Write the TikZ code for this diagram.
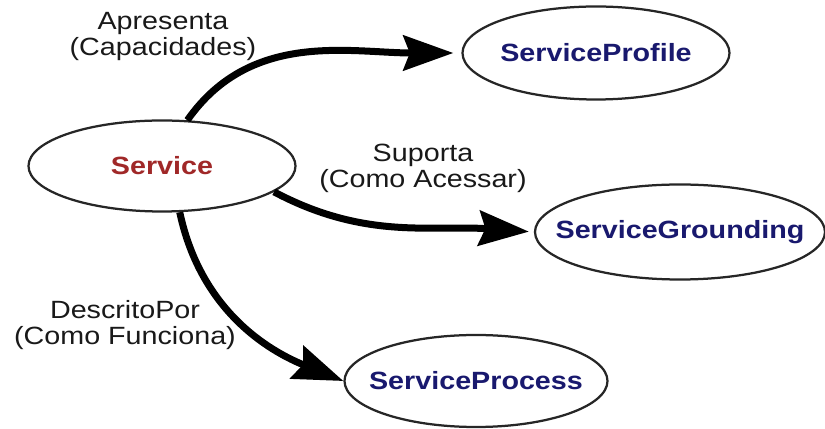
\documentclass[tikz,border=0pt]{standalone}
\usepackage{fontspec}
\newfontfamily\ontofont[FakeStretch=1.15]{Liberation Sans}
\usetikzlibrary{shapes.geometric,arrows.meta}
\definecolor{svcred}{RGB}{160,40,40}
\definecolor{svcblue}{RGB}{25,25,110}
\tikzset {>={Stealth[length=1cm,width=0.7cm,inset=0.13cm]}}
\tikzset{
  oval/.style={ellipse,draw=black!85,line width=0.045cm,fill=white,inner sep=0pt,
    font=\ontofont\bfseries\fontsize{14.2}{16}\selectfont},
  rel/.style={->,line width=0.14cm},
  relname/.style={align=center,text=black!90,font=\ontofont\fontsize{14.2}{14.8}\selectfont}
}
\newcommand{\ovaltext}[1]{\makebox[0pt]{#1}}

\begin{document}
\begin{tikzpicture}
\useasboundingbox (0,0) rectangle (16.5,-8.58);
\node[oval,minimum width=5.34cm,minimum height=1.82cm,text=svcred] (svc) at (3.24,-3.32) {\ovaltext{Service}};
\node[oval,minimum width=5.34cm,minimum height=1.86cm,text=svcblue] (profile) at (11.92,-1.06) {\ovaltext{ServiceProfile}};
\node[oval,minimum width=5.8cm,minimum height=1.9cm,text=svcblue] (grounding) at (13.6,-4.64) {\ovaltext{ServiceGrounding}};
\node[oval,minimum width=5.26cm,minimum height=1.84cm,text=svcblue] (process) at (9.52,-7.62) {\ovaltext{ServiceProcess}};
\draw[rel,shorten >=0.16cm] (svc.61) to[out=55,in=180] (profile.west);
\draw[rel,shorten >=0.1cm] (svc.-13) to[out=-28,in=176] (grounding.west);
\draw[rel] (svc.-69) to[out=-78,in=158] (process.west);
\node[relname] (presents) at (3.26,-0.74) {Apresenta\\(Capacidades)};
\node[relname] (supports) at (8.46,-3.37) {Suporta\\(Como Acessar)};
\node[relname] (describedby) at (2.5,-6.51) {DescritoPor\\(Como Funciona)};
\end{tikzpicture}
\end{document}
